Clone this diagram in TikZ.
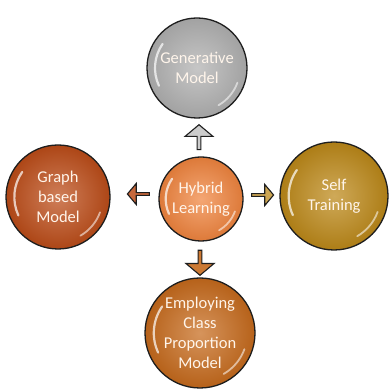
\documentclass[tikz,border=0pt]{standalone}
\usepackage{fontspec}
\setmainfont{Carlito}
\usetikzlibrary{shapes.arrows}
\definecolor{xam}{RGB}{176,176,176}
\definecolor{camnhat}{RGB}{240,132,62}
\definecolor{camdo}{RGB}{188,76,24}
\definecolor{vangdong}{RGB}{188,136,24}
\definecolor{camnau}{RGB}{198,106,28}
\definecolor{vien}{RGB}{30,30,30}
\tikzset{
  ball/.style={circle, draw=vien, line width=1.3pt, text=white!92!orange, align=center,
    font=\fontsize{16.5}{20}\selectfont, inner sep=0pt},
  muiten/.style={single arrow, draw=vien, line width=1.1pt, inner sep=0pt,
    single arrow head extend=3.5pt, single arrow tip angle=100}
}

\begin{document}
\begin{tikzpicture}[x=1pt, y=1pt]
    \useasboundingbox (0,0) rectangle (390,390);
    % Các hình tròn
    \foreach \ten/\x/\y/\r/\mau/\chu in {
        gen/197/322/50/xam/{Generative\\Model},
        hybrid/201/191/42/camnhat/{Hybrid\\Learning},
        graph/58/193/52/camdo/{Graph\\based\\Model},
        self/334/194/54/vangdong/{Self\\Training},
        employ/200/57/55/camnau/{Employing\\Class\\Proportion\\Model}}{
        \node[ball, minimum size=\r*2pt, inner color=\mau!72!white, outer color=\mau!92!black] (\ten) at (\x,\y) {\chu};
        % vệt sáng
        \draw[white, opacity=.7, line width=2.2pt, line cap=round] (\x,\y) ++(145:0.84*\r) arc[start angle=145, end angle=205, radius=0.84*\r];
        \draw[white, opacity=.55, line width=1.8pt, line cap=round] (\x,\y) ++(-20:0.86*\r) arc[start angle=-20, end angle=-60, radius=0.86*\r];
    }
    % Các mũi tên
    \node[muiten, shape border rotate=90, minimum height=25pt, minimum width=28pt, fill=black!20] (mtlen) at (199,252) {};
    \node[muiten, shape border rotate=270, minimum height=25pt, minimum width=28pt, fill=camnau!90!white] (mtxuong) at (200,128) {};
    \node[muiten, shape border rotate=180, minimum height=22pt, minimum width=21pt, fill=camdo!85!white] (mttrai) at (139,196) {};
    \node[muiten, minimum height=22pt, minimum width=21pt, fill=vangdong!75!white] (mtphai) at (262,195) {};
\end{tikzpicture}
\end{document}
